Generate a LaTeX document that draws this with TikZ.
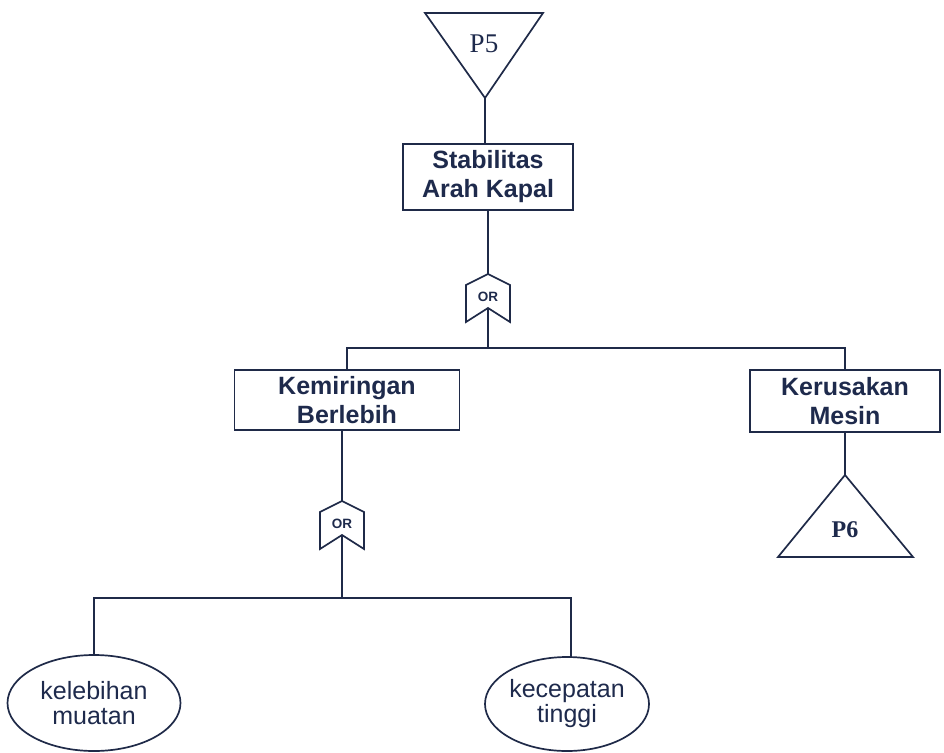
\documentclass[tikz,border=0pt]{standalone}
\usepackage{fontspec}
\setmainfont{Liberation Serif}
\setsansfont{Liberation Sans}
\usetikzlibrary{shapes.geometric}
\definecolor{ink}{HTML}{1F2A48}
\definecolor{txt}{HTML}{1E2A4C}
\tikzset{
  line/.style={draw=ink, line width=1.7pt},
  event/.style={line, rectangle, inner sep=0pt, align=center, text=txt,
    font=\sffamily\bfseries\fontsize{25}{29}\selectfont},
  basic/.style={line, ellipse, inner sep=0pt, align=center, text=txt,
    font=\sffamily\fontsize{25}{25}\selectfont},
  orgate/.pic={
    \draw[line, line join=miter] (0,0) -- (22,11) -- (22,48) -- (0,34) -- (-22,48) -- (-22,11) -- cycle;
    \node[text=txt, font=\sffamily\bfseries\fontsize{13.5}{14}\selectfont] at (0,23) {OR};
    \coordinate (-top) at (0,0);
    \coordinate (-bot) at (0,34);
  }
}
\begin{document}
\begin{tikzpicture}[x=1pt, y=-1pt]
\useasboundingbox (0,0) rectangle (944,752);

% transfer-in triangle at the top
\draw[line, line join=miter] (425,13) -- (543,13) -- (485,98) -- cycle;
\coordinate (p5apex) at (485,98);
\node[text=txt, font=\rmfamily\fontsize{27}{27}\selectfont] (p5) at (484,44) {P5};

% events
\node[event, minimum width=170pt, minimum height=66pt] (stab) at (488,177) {Stabilitas\\Arah Kapal};
\node[event, minimum width=225pt, minimum height=60pt] (kem) at (347,400) {Kemiringan\\Berlebih};
\node[event, minimum width=190pt, minimum height=62pt] (ker) at (845,401) {Kerusakan\\Mesin};

% gates
\pic (g1) at (488,274) {orgate};
\pic (g2) at (342,501) {orgate};

% basic events
\node[basic, minimum width=173pt, minimum height=96pt] (kel) at (94,703) {kelebihan\\muatan};
\node[basic, minimum width=164pt, minimum height=94pt] (kec) at (567,704) {kecepatan\\tinggi};

% transfer-out triangle
\coordinate (p6apex) at (845,475);
\draw[line, line join=miter] (p6apex) -- (913,557) -- (778,557) -- cycle;
\node[text=txt, font=\rmfamily\bfseries\fontsize{24}{24}\selectfont] (p6) at (845,530) {P6};

% junctions
\coordinate (j1) at (488,348);
\coordinate (j2) at (342,598);
\coordinate (j2r) at (571,598);

% connectors
\draw[line] (p5apex) -- (p5apex |- stab.north);
\draw[line] (g1-top |- stab.south) -- (g1-top);
\draw[line] (g1-bot) -- (j1);
\draw[line] (kem.north) |- (j1) -| (ker.north);
\draw[line] (g2-top |- kem.south) -- (g2-top);
\draw[line] (g2-bot) -- (j2);
\draw[line] (kel.north) |- (j2) -- (j2r) -- (j2r |- kec.north);
\draw[line] (ker.south) -- (p6apex);
\end{tikzpicture}
\end{document}
